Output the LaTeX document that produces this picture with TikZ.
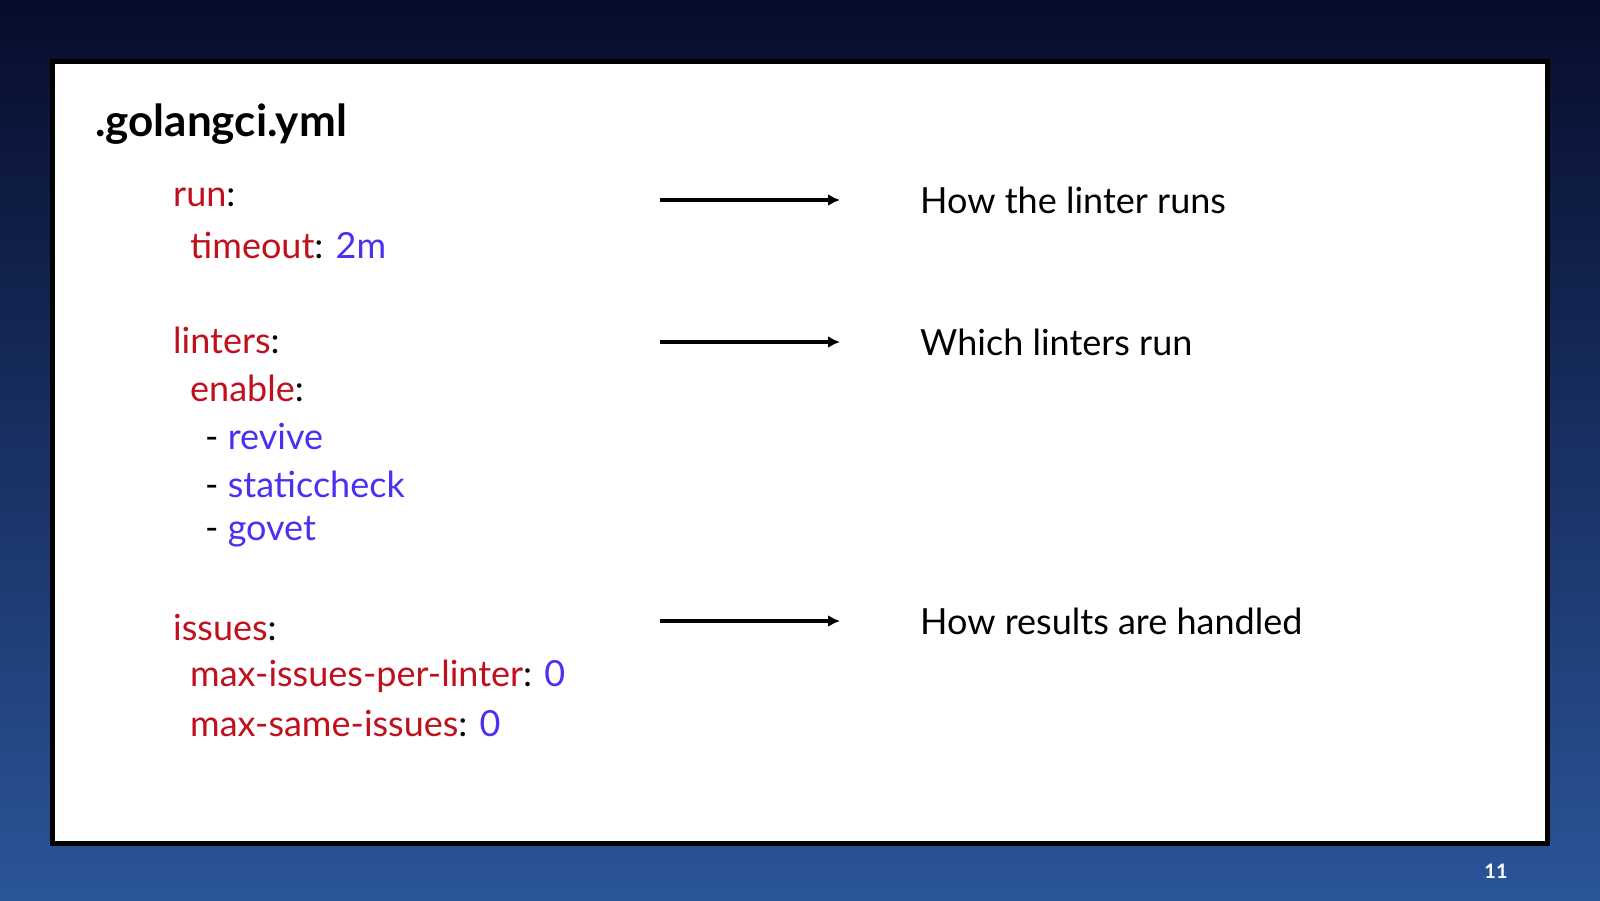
\documentclass[tikz,border=0pt]{standalone}
\usetikzlibrary{arrows.meta}
\usepackage{fontspec}
\setmainfont{Lato}
\definecolor{kred}{HTML}{C0101E}
\definecolor{kblue}{HTML}{4A30F0}
\definecolor{bgtop}{HTML}{070C2C}
\definecolor{bgbot}{HTML}{2A5599}
\begin{document}
\begin{tikzpicture}[x=1pt,y=-1pt,
  code/.style={anchor=west,inner sep=0pt,font=\fontsize{36}{40}\selectfont},
  desc/.style={anchor=west,inner sep=0pt,font=\fontsize{36}{40}\selectfont},
  arr/.style={line width=4pt,-{Latex[length=12pt,width=12pt]}}]
\useasboundingbox (0,0) rectangle (1600,900);
\shade[top color=bgtop,bottom color=bgbot] (0,0) rectangle (1600,900);
\node[draw=black,line width=5pt,fill=white,minimum width=1495pt,minimum height=782pt,anchor=north west,inner sep=0pt] (card) at (50,59) {};
\node[anchor=west,inner sep=0pt,font=\fontsize{44}{48}\selectfont\bfseries] (title) at (95,124) {.golangci.yml};
\node[code] (run) at (173,197) {\textcolor{kred}{run}:};
\node[code] (timeout) at (190,245) {\textcolor{kred}{timeout}: \textcolor{kblue}{2m}};
\node[code] (linters) at (173,340) {\textcolor{kred}{linters}:};
\node[code] (enable) at (190,388) {\textcolor{kred}{enable}:};
\node[code] (revive) at (205,436) {- \textcolor{kblue}{revive}};
\node[code] (static) at (205,484) {- \textcolor{kblue}{staticcheck}};
\node[code] (govet) at (205,532) {- \textcolor{kblue}{govet}};
\node[code] (issues) at (173,628) {\textcolor{kred}{issues}:};
\node[code] (maxi) at (190,676) {\textcolor{kred}{max-issues-per-linter}: \textcolor{kblue}{0}};
\node[code] (maxs) at (190,724) {\textcolor{kred}{max-same-issues}: \textcolor{kblue}{0}};
\node[desc] (d1) at (920,200) {How the linter runs};
\node[desc] (d2) at (920,342) {Which linters run};
\node[desc] (d3) at (920,621) {How results are handled};
\coordinate (a1) at (660,200); \coordinate (b1) at (840,200);
\coordinate (a2) at (660,342); \coordinate (b2) at (840,342);
\coordinate (a3) at (660,621); \coordinate (b3) at (840,621);
\draw[arr] (a1) -- (b1);
\draw[arr] (a2) -- (b2);
\draw[arr] (a3) -- (b3);
\node[text=white,font=\fontsize{20}{22}\selectfont\bfseries] (pg) at (1496,871) {11};
\end{tikzpicture}
\end{document}
